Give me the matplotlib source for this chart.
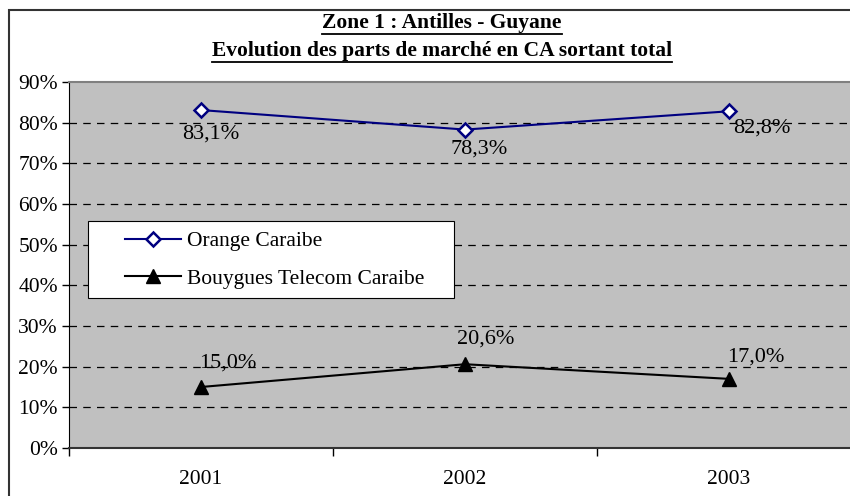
import matplotlib.pyplot as plt
import matplotlib.patches as patches
from matplotlib.lines import Line2D
import numpy as np

# données
annees = ["2001", "2002", "2003"]
orange = [83.1, 78.3, 82.8]
bouygues = [15.0, 20.6, 17.0]
etiquettes_y = ["0%", "10%", "20%", "30%", "40%", "50%", "60%", "70%", "80%", "90%"]

plt.rcParams["font.family"] = ["Liberation Serif", "DejaVu Serif"]

fig = plt.figure(figsize=(8.5, 4.96), dpi=100)
ax = fig.add_axes([69 / 850, 48 / 496, 792 / 850, 366 / 496])
ax.set_facecolor("#C0C0C0")

x = np.arange(len(annees))
ax.plot(x, orange, color="#000080", lw=1.5, marker="D", ms=7,
        mfc="white", mec="#000080", mew=1.8, label="Orange Caraibe", zorder=4)
ax.plot(x, bouygues, color="black", lw=1.5, marker="^", ms=10,
        mfc="black", mec="black", label="Bouygues Telecom Caraibe", zorder=4)

# étiquettes de données (décalages en pixels)
dec_orange = [(10, -24), (14, -19), (33, -17)]
dec_bouygues = [(27, 24), (21, 25), (27, 22)]
for i, v in enumerate(orange):
    dx, dy = dec_orange[i]
    ax.annotate(f"{v:.1f}%".replace(".", ","), (x[i], v),
                xytext=(dx * 0.72, dy * 0.72), textcoords="offset points",
                ha="center", va="center", fontsize=16, zorder=5)
for i, v in enumerate(bouygues):
    dx, dy = dec_bouygues[i]
    ax.annotate(f"{v:.1f}%".replace(".", ","), (x[i], v),
                xytext=(dx * 0.72, dy * 0.72), textcoords="offset points",
                ha="center", va="center", fontsize=16, zorder=3)

ax.set_xlim(-0.5, 2.5)
ax.set_ylim(0, 90)
ax.set_yticks(np.arange(0, 91, 10))
ax.set_yticklabels(etiquettes_y, fontsize=15.5)
ax.set_xticks(x)
ax.set_xticklabels(annees, fontsize=15.5)
ax.set_xticks([-0.5, 0.5, 1.5, 2.5], minor=True)
ax.tick_params(axis="x", which="major", length=0, pad=16)
ax.tick_params(axis="x", which="minor", length=6, width=1, direction="out")
ax.tick_params(axis="y", length=5, width=1, direction="out", pad=3)

for yv in range(10, 90, 10):
    ax.axhline(yv, color="black", lw=0.9, ls=(0, (6, 5)), zorder=1)

ax.spines["top"].set_color("#808080")
ax.spines["top"].set_linewidth(1.5)
ax.spines["right"].set_visible(False)
ax.spines["left"].set_color("black")
ax.spines["bottom"].set_color("#333333")
ax.spines["bottom"].set_linewidth(1.5)

# légende : cadre blanc dessiné à part
boite = patches.Rectangle((88 / 850, 1 - 298 / 496), 366 / 850, 77 / 496,
                          transform=fig.transFigure, facecolor="white",
                          edgecolor="black", lw=0.8, zorder=6)
fig.patches.append(boite)
leg = fig.legend(loc="upper left", bbox_to_anchor=(125 / 850, 1 - 231 / 496),
                 fontsize=15.5, frameon=False, borderpad=0, borderaxespad=0,
                 handlelength=2.6, labelspacing=0.82, handletextpad=0.3)
leg.set_zorder(7)

# cadre du graphique
cadre = patches.Rectangle((9 / 850, -0.1), 1.2, 1 - 10 / 496 + 0.1,
                          transform=fig.transFigure, fill=False,
                          edgecolor="#333333", lw=1.5, zorder=0)
fig.patches.append(cadre)

# titre souligné
t1 = fig.text(442 / 850, 1 - 23 / 496, "Zone 1 : Antilles - Guyane",
              ha="center", va="center", fontsize=15.5, fontweight="bold")
t2 = fig.text(442 / 850, 1 - 51 / 496, "Evolution des parts de marché en CA sortant total",
              ha="center", va="center", fontsize=15.5, fontweight="bold")
fig.canvas.draw()
r = fig.canvas.get_renderer()
for t in (t1, t2):
    bb = t.get_window_extent(r).transformed(fig.transFigure.inverted())
    yl = bb.y0 - 1 / 496
    fig.lines.append(Line2D([bb.x0, bb.x1], [yl, yl], transform=fig.transFigure,
                            color="black", lw=1.3))

fig.savefig("out.png", dpi=100)
